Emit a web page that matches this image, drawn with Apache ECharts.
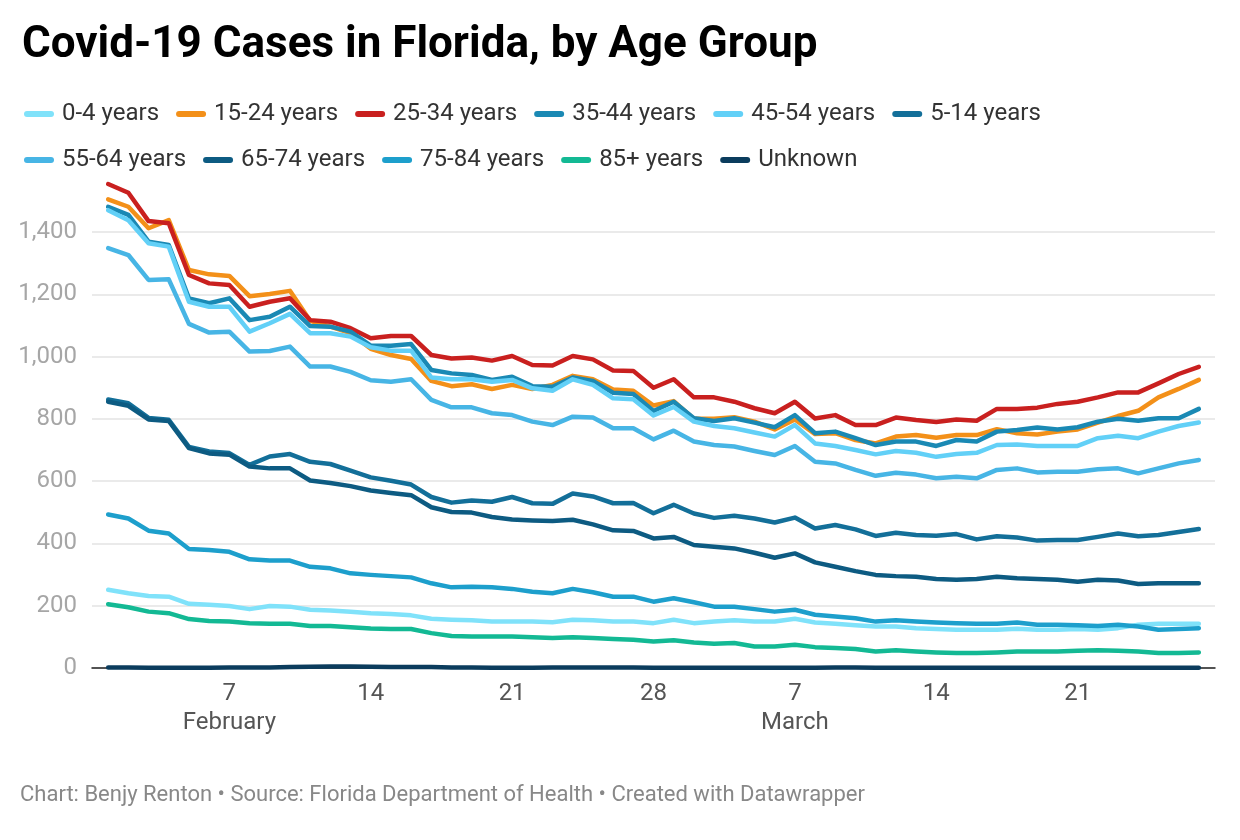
<!DOCTYPE html>
<html>
<head>
<meta charset="utf-8">
<title>Covid-19 Cases in Florida, by Age Group</title>
<script src="https://cdn.jsdelivr.net/npm/echarts@6/dist/echarts.min.js"></script>
<style>
  html, body { margin: 0; padding: 0; background: #fff; }
  #chart { width: 1240px; height: 840px; }
</style>
</head>
<body>
<div id="chart"></div>
<script>
// daily cases, Feb 1 - Mar 27 2021 (55 days); x = day index from Feb 1
const startDay = [2021, 1, 1];
const dayCount = 55;

const ageGroups = ["0-4 years", "15-24 years", "25-34 years", "35-44 years", "45-54 years", "5-14 years",
  "55-64 years", "65-74 years", "75-84 years", "85+ years", "Unknown"];
const groupColors = ["#80e2fa", "#f39019", "#c9201f", "#1a89b4", "#62d0f7", "#136f99",
  "#47b5e5", "#0d5b82", "#1d9fcc", "#13b994", "#0b3c5d"];

const age0to4 = [251, 240, 231, 229, 206, 203, 199, 189, 199, 197, 187, 185, 181, 176, 173, 169, 158, 155, 153, 149,
  149, 149, 147, 155, 153, 149, 149, 144, 155, 144, 149, 153, 149, 149, 158, 146, 142, 137, 133, 133,
  128, 125, 123, 123, 123, 126, 123, 123, 125, 123, 128, 139, 142, 142, 142];
const age15to24 = [1505, 1481, 1412, 1438, 1278, 1264, 1259, 1194, 1201, 1211, 1115, 1096, 1075, 1025, 1005, 992, 922, 905, 911, 896,
  909, 896, 909, 938, 927, 894, 890, 843, 857, 800, 800, 805, 791, 766, 798, 751, 754, 732, 721, 743,
  748, 739, 748, 748, 767, 754, 750, 759, 766, 788, 809, 826, 869, 896, 925];
const age25to34 = [1554, 1526, 1435, 1428, 1262, 1235, 1230, 1160, 1176, 1187, 1117, 1112, 1091, 1059, 1066, 1066, 1005, 994, 997, 987,
  1002, 973, 971, 1002, 991, 955, 954, 900, 927, 869, 869, 855, 834, 818, 855, 801, 812, 780, 780, 804,
  796, 790, 798, 794, 832, 832, 836, 848, 855, 869, 885, 885, 914, 944, 967];
const age35to44 = [1481, 1455, 1369, 1358, 1187, 1171, 1187, 1117, 1128, 1160, 1098, 1096, 1080, 1035, 1035, 1040, 957, 946, 941, 925,
  935, 905, 903, 933, 922, 884, 880, 825, 855, 802, 793, 802, 788, 773, 812, 754, 759, 738, 716, 727,
  727, 713, 732, 727, 759, 764, 772, 766, 773, 791, 800, 794, 802, 802, 832];
const age45to54 = [1470, 1438, 1364, 1353, 1176, 1160, 1160, 1080, 1107, 1137, 1075, 1075, 1064, 1030, 1019, 1019, 933, 927, 927, 919,
  925, 898, 890, 927, 909, 866, 863, 811, 838, 791, 777, 770, 756, 743, 780, 721, 713, 700, 686, 697,
  691, 678, 687, 691, 716, 718, 713, 713, 713, 738, 746, 738, 759, 777, 788];
const age5to14 = [862, 850, 803, 797, 710, 695, 690, 652, 679, 687, 662, 655, 634, 612, 601, 589, 549, 531, 538, 534,
  549, 529, 527, 560, 551, 529, 530, 497, 524, 496, 482, 489, 480, 467, 483, 448, 459, 445, 424, 434,
  427, 425, 430, 413, 423, 419, 409, 411, 411, 421, 432, 423, 427, 437, 446];
const age55to64 = [1348, 1326, 1246, 1248, 1105, 1077, 1080, 1016, 1018, 1032, 968, 968, 951, 924, 919, 927, 861, 837, 837, 818,
  812, 791, 780, 807, 804, 770, 770, 734, 762, 727, 716, 711, 697, 684, 713, 662, 657, 636, 617, 627,
  621, 609, 614, 609, 636, 641, 628, 630, 630, 638, 641, 625, 641, 657, 668];
const age65to74 = [855, 842, 798, 793, 706, 689, 685, 647, 641, 641, 602, 594, 584, 570, 562, 555, 516, 501, 499, 485,
  477, 474, 472, 476, 461, 442, 440, 416, 421, 395, 389, 384, 370, 354, 368, 339, 325, 311, 299, 295,
  293, 286, 283, 286, 293, 288, 286, 283, 277, 283, 281, 270, 272, 272, 272];
const age75to84 = [493, 480, 441, 432, 382, 379, 373, 349, 345, 345, 325, 320, 304, 299, 295, 291, 272, 259, 261, 259,
  254, 245, 240, 254, 243, 229, 229, 213, 224, 211, 197, 197, 189, 181, 187, 171, 165, 160, 149, 153,
  149, 146, 144, 142, 142, 146, 139, 139, 137, 135, 139, 133, 123, 125, 128];
const age85plus = [205, 195, 181, 176, 157, 151, 149, 144, 142, 142, 135, 135, 131, 127, 125, 125, 112, 103, 101, 101,
  101, 99, 96, 99, 96, 93, 91, 85, 89, 82, 78, 80, 69, 69, 75, 67, 64, 61, 53, 57,
  53, 50, 48, 48, 50, 53, 53, 53, 55, 57, 55, 53, 48, 48, 50];
const ageUnknown = [2, 2, 1, 1, 1, 1, 2, 2, 2, 3, 4, 5, 5, 4, 3, 3, 3, 2, 2, 1,
  1, 1, 2, 2, 2, 2, 2, 1, 1, 1, 1, 1, 1, 1, 1, 1, 2, 2, 1, 1,
  1, 1, 1, 1, 1, 1, 1, 1, 1, 1, 1, 1, 1, 1, 1];

const groupValues = [age0to4, age15to24, age25to34, age35to44, age45to54, age5to14,
  age55to64, age65to74, age75to84, age85plus, ageUnknown];

const yTicks = [0, 200, 400, 600, 800, 1000, 1200, 1400];
const xTickDays = [6, 13, 20, 27, 34, 41, 48];   // Feb 7, 14, 21, 28, Mar 7, 14, 21
const monthNames = ["January", "February", "March", "April"];

const dates = [];
for (let i = 0; i < dayCount; i++) {
  dates.push(new Date(startDay[0], startDay[1], startDay[2] + i));
}

const chart = echarts.init(document.getElementById("chart"), null, { renderer: "canvas" });

const legendIcon = "path://M3,0 H27 A3,3 0 0 1 27,6 H3 A3,3 0 0 1 3,0 Z";
const legendBase = {
  left: 19,
  orient: "horizontal",
  icon: legendIcon,
  itemWidth: 30,
  itemHeight: 6,
  itemGap: 17,
  selectedMode: false,
  textStyle: { fontFamily: "Roboto", fontSize: 24, color: "#333", padding: [0, 0, 0, 3] }
};

const option = {
  animation: false,
  backgroundColor: "#fff",
  title: {
    text: "Covid-19 Cases in Florida, by Age Group",
    left: 17,
    top: 19,
    textStyle: { fontFamily: "Roboto", fontSize: 44, fontWeight: "bold", color: "#000" }
  },
  legend: [
    Object.assign({}, legendBase, { top: 97, data: ageGroups.slice(0, 6) }),
    Object.assign({}, legendBase, { top: 143, data: ageGroups.slice(6) })
  ],
  grid: { left: 92, right: 25, top: 169.7, bottom: 172 },
  xAxis: {
    type: "value",
    min: -0.8,
    max: dayCount - 1 + 0.8,
    axisLine: { show: true, lineStyle: { color: "#222", width: 1.5 } },
    axisTick: { show: false },
    splitLine: { show: false },
    axisLabel: {
      customValues: xTickDays,
      formatter: function (value) {
        const d = dates[Math.round(value)];
        let s = String(d.getDate());
        if (d.getDate() === 7) s += "\n" + monthNames[d.getMonth()];
        return s;
      },
      fontFamily: "Roboto",
      fontSize: 24,
      color: "#555",
      lineHeight: 29,
      margin: 11,
      hideOverlap: false
    }
  },
  yAxis: {
    type: "value",
    min: 0,
    max: 1600,
    interval: 200,
    axisLine: { show: false },
    axisTick: { show: false },
    axisLabel: {
      formatter: v => (yTicks.indexOf(v) >= 0 ? v.toLocaleString("en-US") : ""),
      fontFamily: "Roboto",
      fontSize: 24,
      color: "#a6a6a6",
      margin: 15
    },
    splitLine: {
      show: true,
      lineStyle: {
        color: yTicks.map(() => "#e3e3e3").concat(["rgba(0,0,0,0)"]),
        width: 1.5
      }
    }
  },
  series: ageGroups.map((name, k) => ({
    name: name,
    type: "line",
    showSymbol: false,
    symbol: "none",
    color: groupColors[k],
    lineStyle: { width: 4.5, cap: "round", join: "round" },
    emphasis: { disabled: true },
    data: groupValues[k].map((v, i) => [i, v])
  })),
  graphic: [
    {
      type: "text",
      left: 20,
      top: 784,
      style: {
        text: "Chart: Benjy Renton \u2022 Source: Florida Department of Health \u2022 Created with Datawrapper",
        font: "22px Roboto",
        fill: "#888"
      }
    }
  ]
};

chart.setOption(option);
</script>
</body>
</html>
